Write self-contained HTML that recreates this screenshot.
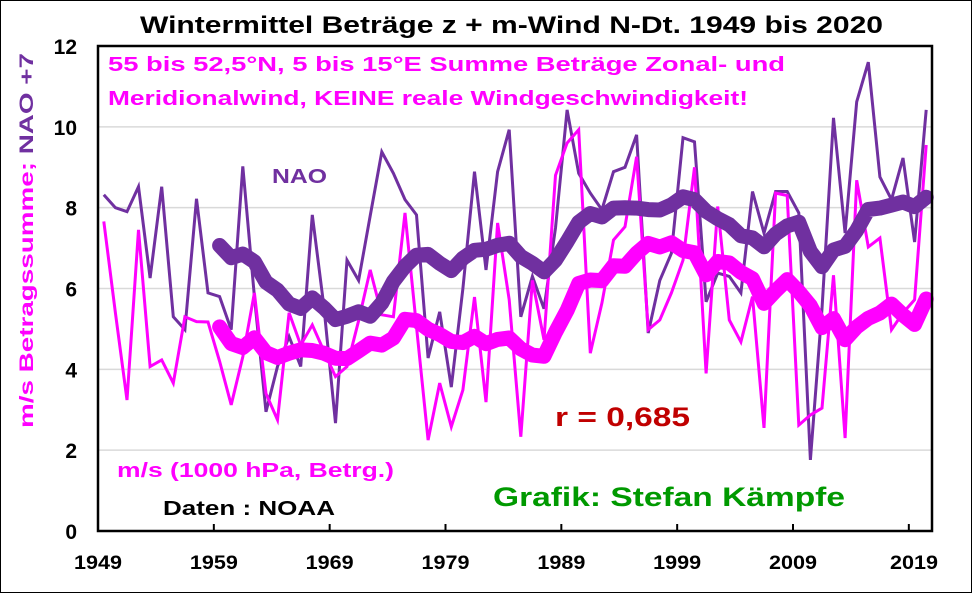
<!DOCTYPE html>
<html><head><meta charset="utf-8"><style>
html,body{margin:0;padding:0;background:#fff}
svg{display:block}
text{font-family:"Liberation Sans",Arial,sans-serif;font-weight:bold}
</style></head><body>
<svg id="chart" width="972" height="593" viewBox="0 0 972 593">
<rect x="0.5" y="0.5" width="971" height="592" fill="#fff" stroke="#000" stroke-width="1"/>
<text x="140" y="33" font-size="24" textLength="743" lengthAdjust="spacingAndGlyphs" fill="#000">Wintermittel Beträge z + m-Wind N-Dt. 1949 bis 2020</text>
<g id="grid"></g>
<g id="yticks"></g>
<g id="xticks"></g>
<g id="series"></g>
<rect x="98" y="46" width="834" height="485" fill="none" stroke="#000" stroke-width="2.5"/>
<text transform="translate(33,428) rotate(-90)" font-size="19" textLength="375" lengthAdjust="spacingAndGlyphs"><tspan fill="#ff00ff">m/s Betragssumme;</tspan><tspan fill="#7030a0"> NAO +7</tspan></text>
<text x="108" y="71" font-size="20" textLength="677" lengthAdjust="spacingAndGlyphs" fill="#ff00ff">55 bis 52,5°N, 5 bis 15°E Summe Beträge Zonal- und</text>
<text x="108" y="105" font-size="20" textLength="640" lengthAdjust="spacingAndGlyphs" fill="#ff00ff">Meridionalwind, KEINE reale Windgeschwindigkeit!</text>
<text x="272" y="183" font-size="20" textLength="55" lengthAdjust="spacingAndGlyphs" fill="#7030a0">NAO</text>
<text x="555" y="426" font-size="27" textLength="135" lengthAdjust="spacingAndGlyphs" fill="#c00000">r = 0,685</text>
<text x="117" y="477" font-size="20" textLength="277" lengthAdjust="spacingAndGlyphs" fill="#ff00ff">m/s (1000 hPa, Betrg.)</text>
<text x="163" y="515" font-size="20" textLength="172" lengthAdjust="spacingAndGlyphs" fill="#000">Daten : NOAA</text>
<text x="493" y="506" font-size="27" textLength="352" lengthAdjust="spacingAndGlyphs" fill="#009900">Grafik: Stefan Kämpfe</text>
</svg>
<script>
const years = [];
for (let y = 1949; y <= 2020; y++) years.push(y);
const windValues = [7.66,5.4,3.24,7.45,4.07,4.23,3.66,5.3,5.18,5.17,4.2,3.12,4.31,5.89,3.4,2.75,5.4,4.6,5.1,4.45,3.82,4.07,5.2,6.46,5.35,5.3,7.87,5.05,2.25,3.66,2.58,3.49,5.79,3.19,7.62,5.72,2.33,6.2,4.73,8.8,9.6,9.93,4.4,5.64,7.2,7.53,9.26,4.98,5.22,5.89,6.7,9.0,3.9,8.03,5.22,4.68,5.8,2.55,8.36,8.3,2.62,2.87,3.04,6.33,2.3,8.68,7.03,7.25,4.98,5.4,5.72,9.55];
const naoValues = [8.32,8.0,7.9,8.52,6.26,8.52,5.3,4.98,8.22,5.89,5.8,4.98,9.02,5.8,2.95,4.07,4.81,4.07,7.82,5.55,2.67,6.7,6.2,7.8,9.38,8.85,8.2,7.82,4.28,5.42,3.56,6.0,8.89,6.46,8.89,9.93,5.3,6.3,5.5,7.5,10.42,8.85,8.36,7.95,8.89,9.0,9.8,4.9,6.2,6.87,9.73,9.63,5.67,6.38,6.3,5.89,8.4,7.37,8.4,8.4,7.87,1.76,5.5,10.22,7.37,10.62,11.6,8.76,8.2,9.23,7.15,10.42];
const yTickLabels = ["0","2","4","6","8","10","12"];
const xTickLabels = ["1949","1959","1969","1979","1989","1999","2009","2019"];
const windowSize = 11;

const NS = "http://www.w3.org/2000/svg";
const plotLeft = 98, plotRight = 932, plotTop = 46, plotBottom = 531, yMax = 12;
const n = years.length;
const step = (plotRight - plotLeft) / n;
function xPos(i){ return plotLeft + (i + 0.5) * step; }
function xBoundary(i){ return plotLeft + i * step; }
function yPos(v){ return plotBottom - v / yMax * (plotBottom - plotTop); }
function mk(tag, attrs, parent){ const e = document.createElementNS(NS, tag); for (const k in attrs) e.setAttribute(k, attrs[k]); parent.appendChild(e); return e; }

const grid = document.getElementById('grid');
const yt = document.getElementById('yticks');
yTickLabels.forEach(function(lbl){
  const v = parseFloat(lbl), y = yPos(v);
  if (v > 0 && v < yMax) {
    const l = mk('line', {x1:plotLeft, x2:plotRight, y1:y, y2:y, stroke:'#d9d9d9', 'stroke-width':1.5}, grid);
    
    
  }
  const t = mk('text', {x:77, y:y+8, 'font-size':21, 'text-anchor':'end', fill:'#000'}, yt);
  t.textContent = lbl;
  
  
});
const xt = document.getElementById('xticks');
xTickLabels.forEach(function(lbl){
  const i = years.indexOf(parseInt(lbl));
  const x = xBoundary(i);
  if (i > 0) {
    const tk = mk('line', {x1:x, x2:x, y1:plotBottom, y2:plotBottom-7, stroke:'#000', 'stroke-width':2}, xt);
    
    
  }
  let lx = x;
  if (lx > 905) lx = 914;
  const t = mk('text', {x:lx, y:569, 'font-size':19, 'text-anchor':'middle', fill:'#000', textLength:48, lengthAdjust:'spacingAndGlyphs'}, xt);
  t.textContent = lbl;
  
  
});

function movingAvg(arr){
  const out = [];
  for (let i = windowSize - 1; i < arr.length; i++) {
    let s = 0; for (let j = i - windowSize + 1; j <= i; j++) s += arr[j];
    out.push({i:i, v:s / windowSize});
  }
  return out;
}
function pathFrom(pts){ return pts.map(function(p,k){ return (k?'L':'M') + xPos(p.i).toFixed(1) + ',' + yPos(p.v).toFixed(1); }).join(' '); }

const series = document.getElementById('series');
const windPts = windValues.map(function(v,i){ return {i:i, v:v}; });
const naoPts = naoValues.map(function(v,i){ return {i:i, v:v}; });

const nl = mk('path', {d:pathFrom(naoPts), fill:'none', stroke:'#7030a0', 'stroke-width':3, 'stroke-linejoin':'miter'}, series);


const wl = mk('path', {d:pathFrom(windPts), fill:'none', stroke:'#ff00ff', 'stroke-width':3, 'stroke-linejoin':'miter'}, series);


const nt = mk('path', {d:pathFrom(movingAvg(naoValues)), fill:'none', stroke:'#7030a0', 'stroke-width':15, 'stroke-linejoin':'round', 'stroke-linecap':'round'}, series);


const wt = mk('path', {d:pathFrom(movingAvg(windValues)), fill:'none', stroke:'#ff00ff', 'stroke-width':15, 'stroke-linejoin':'round', 'stroke-linecap':'round'}, series);


</script>
</body></html>
